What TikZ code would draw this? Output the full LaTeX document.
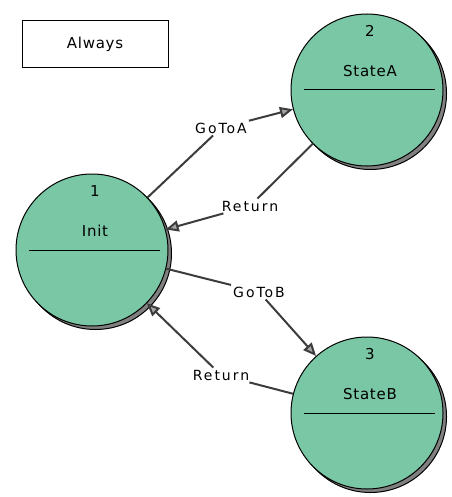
\documentclass[tikz,border=0pt]{standalone}
\usepackage{fontspec}
\setmainfont{DejaVu Sans}
\usetikzlibrary{
  arrows.meta,
  calc,
  shadows,
}
\definecolor{stategreen}{RGB}{121,199,165}
\definecolor{edgegray}{RGB}{60,60,60}
\tikzset{
  >={Triangle[length=13pt,width=11pt,fill=gray!70]},
  statenode/.style={circle,draw=black,line width=1pt,fill=stategreen,minimum size=152pt,inner sep=0pt,
    drop shadow={shadow xshift=3.5pt,shadow yshift=-3.5pt,fill=gray,draw=black,opacity=1}},
  statetext/.style={font=\fontsize{15}{17}\selectfont\addfontfeature{LetterSpace=5}},
  edgelabel/.style={inner sep=2pt,font=\fontsize{14}{16}\selectfont\addfontfeature{LetterSpace=14}},
  trans/.style={draw=edgegray,line width=2pt},
}

\begin{document}
\begin{tikzpicture}[x=1pt,y=-1pt]
      \useasboundingbox (0,0) rectangle (451,497);
      \node[draw,line width=1pt,minimum width=146pt,minimum height=47pt,statetext] (always) at (95,44) {Always};
      \node[statenode] (init) at (92,250) {};
      \node[statenode] (stateA) at (367,90) {};
      \node[statenode] (stateB) at (367,413) {};
      \foreach \s/\n/\t in {init/1/Init,stateA/2/StateA,stateB/3/StateB}
      {
        \node[statetext] (\s-num) at ($(\s)+(3,-59)$) {\n};
        \node[statetext] (\s-name) at ($(\s)+(3,-19)$) {\t};
        \draw[line width=1pt] ($(\s)+(-63,0)$) -- ($(\s)+(68,0)$);
      }
      \node[edgelabel] (goA) at (221,128) {GoToA};
      \node[edgelabel] (retA) at (250,206) {Return};
      \node[edgelabel] (goB) at (259,292) {GoToB};
      \node[edgelabel] (retB) at (221,375) {Return};
      \draw[trans,->] (init) -- (goA) -- (stateA);
      \draw[trans,->] (stateA) -- (retA) -- (init);
      \draw[trans,->] (init) -- (goB) -- (stateB);
      \draw[trans,->] (stateB) -- (retB) -- (init);
    \end{tikzpicture}
\end{document}
